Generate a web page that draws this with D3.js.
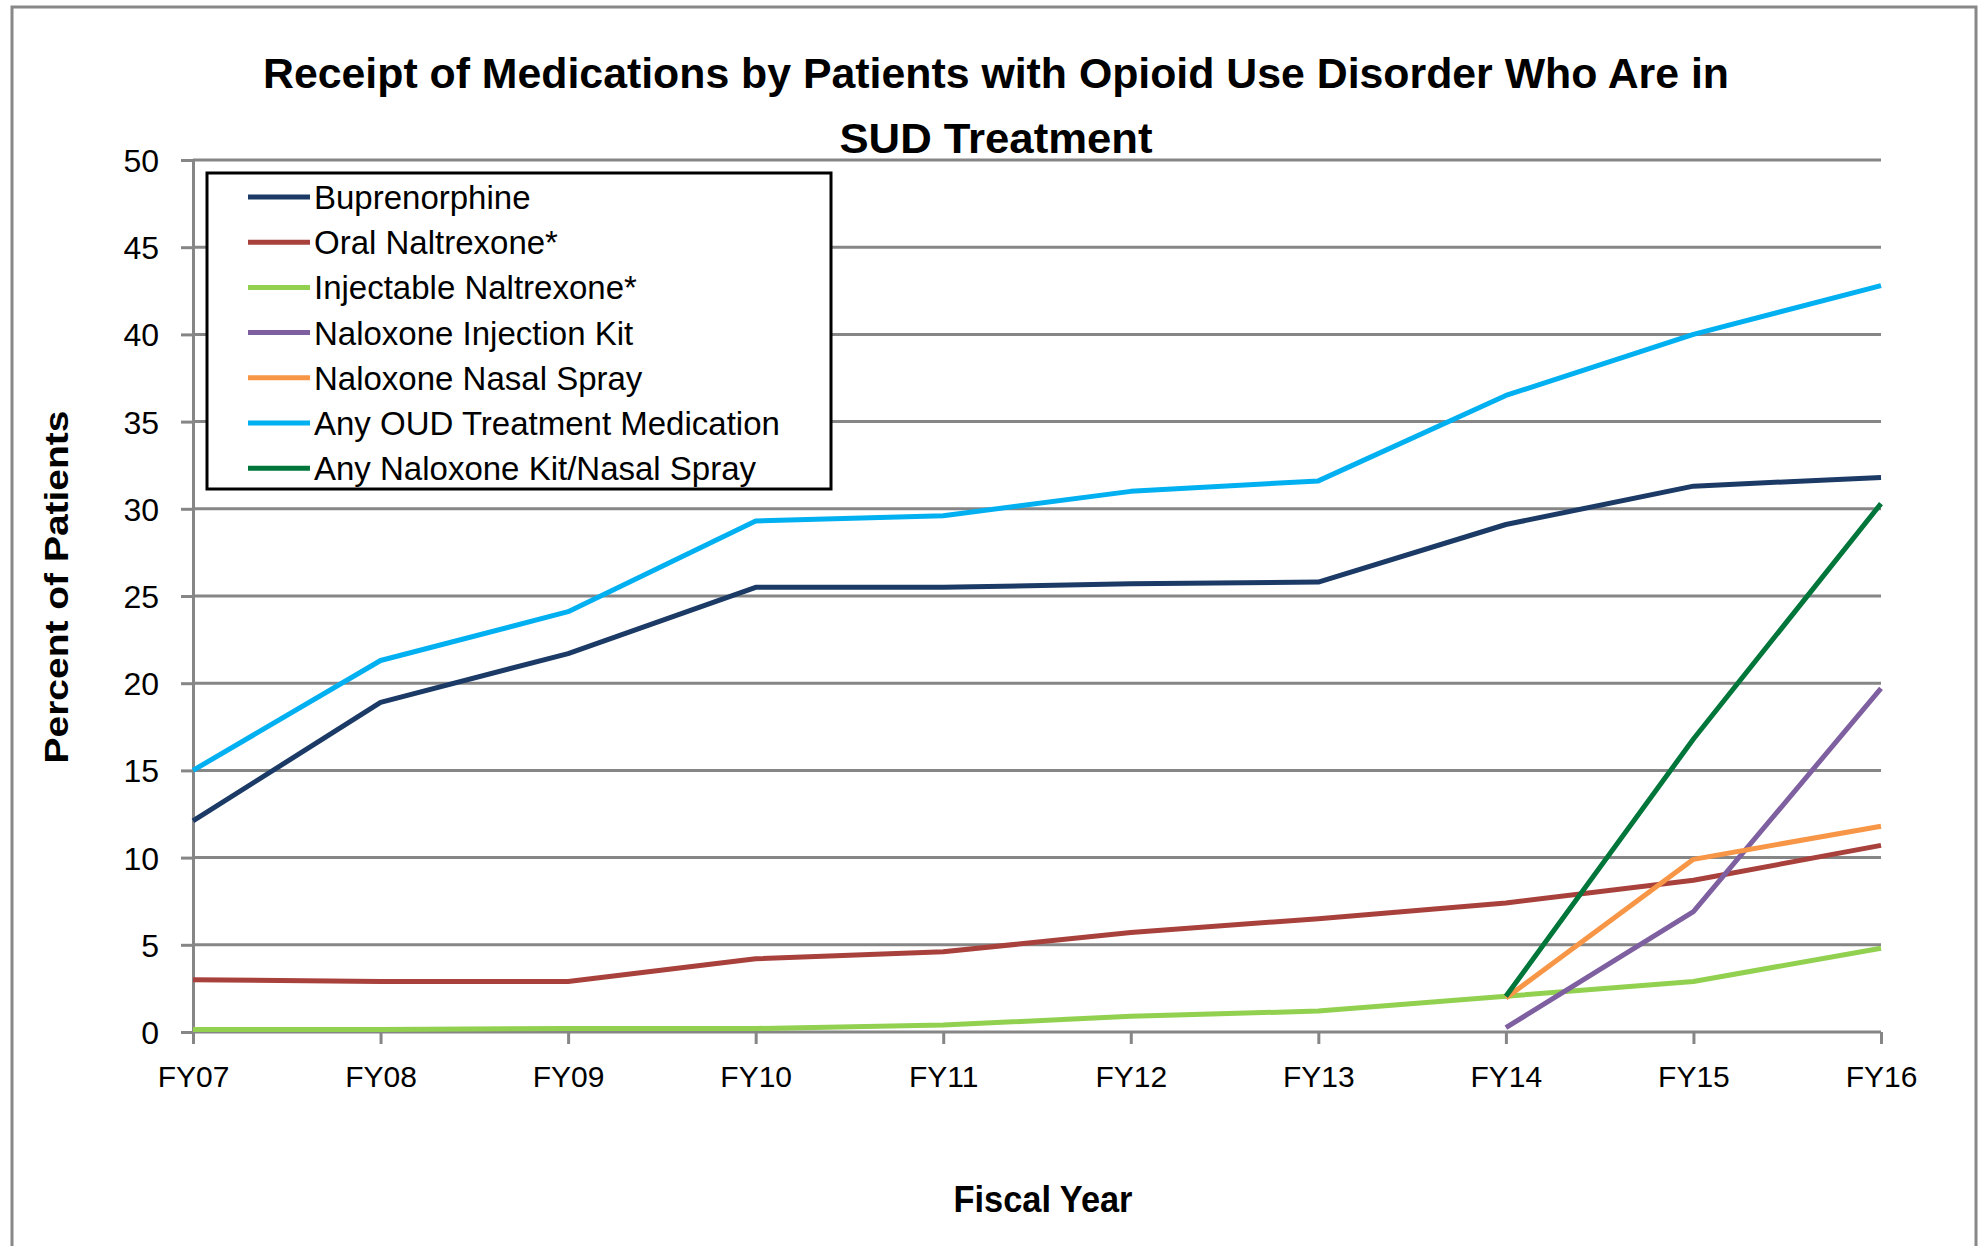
<!DOCTYPE html>
<html><head><meta charset="utf-8">
<script src="https://d3js.org/d3.v7.min.js"></script>
<style>body{margin:0;background:#fff}</style>
</head><body>
<script>
const years = ["FY07","FY08","FY09","FY10","FY11","FY12","FY13","FY14","FY15","FY16"];
const yTicks = [0,5,10,15,20,25,30,35,40,45,50];
const buprenorphine = [12.1,18.9,21.7,25.5,25.5,25.7,25.8,29.1,31.3,31.8];
const oralNaltrexone = [3.0,2.9,2.9,4.2,4.6,5.7,6.5,7.4,8.7,10.7];
const injectableNaltrexone = [0.15,0.15,0.2,0.2,0.4,0.9,1.2,2.05,2.9,4.8];
const naloxoneKit = [null,null,null,null,null,null,null,0.25,6.9,19.7];
const naloxoneSpray = [null,null,null,null,null,null,null,1.95,9.9,11.8];
const anyOUD = [15.0,21.3,24.1,29.3,29.6,31.0,31.6,36.5,40.0,42.8];
const anyNaloxone = [null,null,null,null,null,null,null,2.05,16.8,30.3];
const seriesNames = ["Buprenorphine","Oral Naltrexone*","Injectable Naltrexone*","Naloxone Injection Kit","Naloxone Nasal Spray","Any OUD Treatment Medication","Any Naloxone Kit/Nasal Spray"];
const seriesColors = ["#1B3A66","#A8403C","#92D050","#7E5FA0","#F79646","#00B0F0","#00763A"];
const seriesValues = [buprenorphine,oralNaltrexone,injectableNaltrexone,naloxoneKit,naloxoneSpray,anyOUD,anyNaloxone];
const titleLines = ["Receipt of Medications by Patients with Opioid Use Disorder Who Are in","SUD Treatment"];

const W=1981,H=1246;
const svg=d3.select("body").append("svg").attr("width",W).attr("height",H);
const font="'Liberation Sans', Arial, sans-serif";

svg.append("rect").attr("x",12).attr("y",7).attr("width",1964).attr("height",1260)
  .attr("fill","#fff").attr("stroke","#888").attr("stroke-width",3);

const x=d3.scalePoint().domain(years).range([193,1881]);
const y=d3.scaleLinear().domain([0,50]).range([1032,160]);

svg.append("g").selectAll("line").data(yTicks.filter(d=>d>0)).join("line")
  .attr("x1",193).attr("x2",1881).attr("y1",d=>y(d)).attr("y2",d=>y(d))
  .attr("stroke","#868686").attr("stroke-width",3);

const yAxis=svg.append("g").attr("transform","translate(193,0)")
  .call(d3.axisLeft(y).tickValues(yTicks).tickSize(12).tickPadding(22));
yAxis.select(".domain").attr("stroke","#868686").attr("stroke-width",3);
yAxis.selectAll(".tick line").attr("stroke","#868686").attr("stroke-width",3);
yAxis.selectAll("text").attr("font-family",font).attr("font-size",32).attr("fill","#000").attr("dy","0.36em");

const xAxis=svg.append("g").attr("transform","translate(0,1032)")
  .call(d3.axisBottom(x).tickSize(12).tickPadding(22));
xAxis.select(".domain").attr("stroke","#868686").attr("stroke-width",3).attr("d","M193,0H1881");
xAxis.selectAll(".tick line").attr("stroke","#868686").attr("stroke-width",3);
xAxis.selectAll("text").attr("font-family",font).attr("font-size",30).attr("fill","#000");

const line=d3.line().defined(d=>d.v!=null).x(d=>x(d.k)).y(d=>y(d.v));
seriesValues.forEach((vals,i)=>{
  svg.append("path").datum(years.map((k,j)=>({k,v:vals[j]})))
    .attr("d",line).attr("fill","none").attr("stroke",seriesColors[i])
    .attr("stroke-width",5).attr("stroke-linejoin","round");
});

svg.append("rect").attr("x",207).attr("y",173).attr("width",624).attr("height",316)
  .attr("fill","#fff").attr("stroke","#000").attr("stroke-width",3);
const lg=svg.append("g").selectAll("g").data(seriesNames).join("g")
  .attr("transform",(d,i)=>`translate(0,${197+i*45.2})`);
lg.append("line").attr("x1",248).attr("x2",310).attr("y1",0).attr("y2",0)
  .attr("stroke",(d,i)=>seriesColors[i]).attr("stroke-width",5);
lg.append("text").attr("x",314).attr("y",12).text(d=>d)
  .attr("font-family",font).attr("font-size",33).attr("fill","#000");

const tWidths=[1466,313];
svg.append("g").selectAll("text").data(titleLines).join("text")
  .attr("x",996).attr("y",(d,i)=>[88,153][i]).attr("text-anchor","middle")
  .attr("font-family",font).attr("font-weight","bold").attr("font-size",42)
  .attr("textLength",(d,i)=>tWidths[i]).attr("lengthAdjust","spacingAndGlyphs")
  .text(d=>d);

svg.append("text").attr("x",1043).attr("y",1212).attr("text-anchor","middle")
  .attr("font-family",font).attr("font-weight","bold").attr("font-size",36)
  .attr("textLength",179).attr("lengthAdjust","spacingAndGlyphs").text("Fiscal Year");

svg.append("text").attr("transform","translate(68,587) rotate(-90)").attr("text-anchor","middle")
  .attr("font-family",font).attr("font-weight","bold").attr("font-size",34)
  .attr("textLength",353).attr("lengthAdjust","spacingAndGlyphs").text("Percent of Patients");
</script>
</body></html>
